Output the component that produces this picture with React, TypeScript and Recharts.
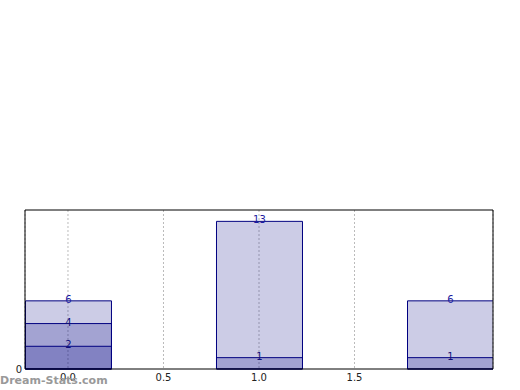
import { BarChart, Bar, XAxis, YAxis, CartesianGrid, LabelList } from "recharts";

const positions = [0, 1, 2];
const backValues = [6, 13, 6];
const midValues = [4, 1, 1];
const frontValues = [2, null, null];
const xTicks = [0, 0.5, 1, 1.5];
const yTicks = [0];

const data = positions.map((x, i) => ({
  x,
  back: backValues[i],
  mid: midValues[i],
  front: frontValues[i],
}));

const BAR_PX = 86;
const X_DOMAIN = [-0.225, 2.225];

export default function App() {
  return (
    <div style={{ position: "absolute", left: 0, top: 0, width: 520, height: 390, background: "#fff" }}>
      <BarChart
        width={520}
        height={390}
        data={data}
        margin={{ top: 209, right: 26, bottom: 0, left: 0 }}
        barSize={BAR_PX}
        barGap={-BAR_PX}
      >
        <CartesianGrid horizontal={false} stroke="#bbbbbb" strokeDasharray="2 2" />
        <XAxis
          dataKey="x"
          type="number"
          domain={X_DOMAIN}
          ticks={xTicks}
          tickFormatter={(v) => Number(v).toFixed(1)}
          allowDataOverflow
          height={21}
          tickLine={false}
          tickSize={0}
          tickMargin={5}
          axisLine={{ stroke: "#000" }}
          tick={{ fontSize: 10, fill: "#222", fontFamily: "DejaVu Sans" }}
        />
        <XAxis
          xAxisId="top"
          orientation="top"
          dataKey="x"
          type="number"
          domain={X_DOMAIN}
          ticks={xTicks}
          allowDataOverflow
          height={1}
          tick={false}
          tickLine={false}
          axisLine={{ stroke: "#000" }}
        />
        <YAxis
          type="number"
          domain={[0, 14]}
          ticks={yTicks}
          width={25}
          tickLine={false}
          tickSize={0}
          tickMargin={3}
          axisLine={{ stroke: "#000" }}
          tick={{ fontSize: 10, fill: "#222", fontFamily: "DejaVu Sans" }}
        />
        <YAxis
          yAxisId="right"
          orientation="right"
          domain={[0, 14]}
          ticks={yTicks}
          width={1}
          tick={false}
          tickLine={false}
          axisLine={{ stroke: "#000" }}
        />
        <Bar dataKey="back" fill="navy" fillOpacity={0.2} stroke="navy" strokeWidth={1} isAnimationActive={false}>
          <LabelList dataKey="back" position="top" offset={-2} fontSize={10} fill="#1c1ca0" fontFamily="DejaVu Sans" />
        </Bar>
        <Bar dataKey="mid" fill="navy" fillOpacity={0.2} stroke="navy" strokeWidth={1} isAnimationActive={false}>
          <LabelList dataKey="mid" position="top" offset={-2} fontSize={10} fill="#10107a" fontFamily="DejaVu Sans" />
        </Bar>
        <Bar dataKey="front" fill="navy" fillOpacity={0.2} stroke="navy" strokeWidth={1} isAnimationActive={false}>
          <LabelList dataKey="front" position="top" offset={-2} fontSize={10} fill="#10107a" fontFamily="DejaVu Sans" />
        </Bar>
      </BarChart>
      <div
        style={{
          position: "absolute",
          left: 0,
          top: 374,
          fontFamily: "DejaVu Sans",
          fontWeight: "bold",
          fontSize: 11,
          color: "#999",
        }}
      >
        Dream-Stats.com
      </div>
    </div>
  );
}
